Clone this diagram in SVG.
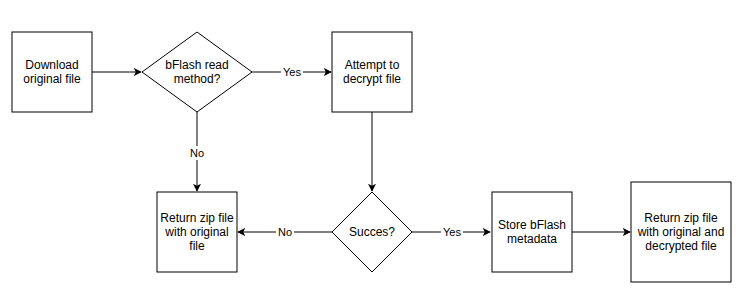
<svg xmlns="http://www.w3.org/2000/svg" width="743" height="301" viewBox="0 0 743 301">
<style>
.n{fill:#fff;stroke:#000;stroke-width:1}
.t{font-family:"Liberation Sans",Arial,sans-serif;font-size:12px;fill:#000;text-anchor:middle}
.l{font-family:"Liberation Sans",Arial,sans-serif;font-size:11px;fill:#000;text-anchor:middle}
.c{fill:none;stroke:#000;stroke-width:1;marker-end:url(#a)}
.lb{fill:#fff}
</style>
<defs>
<marker id="a" viewBox="0 0 10 10" refX="9" refY="5" markerWidth="8" markerHeight="8" markerUnits="userSpaceOnUse" orient="auto">
<path d="M0,0 L10,5 L0,10 L2.5,5 Z" fill="#000"/>
</marker>
</defs>
<rect width="743" height="301" fill="#fff"/>
<g id="connectors">
<path class="c" d="M92,72 L141,72"/>
<path class="c" d="M252,72 L331,72"/>
<path class="c" d="M197,112 L197,191"/>
<path class="c" d="M372,112 L372,191"/>
<path class="c" d="M332,232 L238,232"/>
<path class="c" d="M412,232 L490,232"/>
<path class="c" d="M572,232 L630,232"/>
<rect class="lb" x="281" y="65" width="22" height="14"/>
<text class="l" x="292" y="76">Yes</text>
<rect class="lb" x="188" y="146" width="18" height="14"/>
<text class="l" x="197" y="157">No</text>
<rect class="lb" x="276" y="225" width="18" height="14"/>
<text class="l" x="285" y="236">No</text>
<rect class="lb" x="441" y="225" width="22" height="14"/>
<text class="l" x="452" y="236">Yes</text>
</g>
<g id="download">
<rect class="n" x="12" y="32" width="80" height="80"/>
<text class="t" x="52" y="69">Download</text>
<text class="t" x="52" y="83">original file</text>
</g>
<g id="bflash-read">
<path class="n" d="M197,32 L252,72 L197,112 L142,72 Z"/>
<text class="t" x="197" y="69">bFlash read</text>
<text class="t" x="197" y="83">method?</text>
</g>
<g id="attempt">
<rect class="n" x="332" y="32" width="80" height="80"/>
<text class="t" x="372" y="69">Attempt to</text>
<text class="t" x="372" y="83">decrypt file</text>
</g>
<g id="return-original">
<rect class="n" x="157" y="192" width="80" height="80"/>
<text class="t" x="197" y="222">Return zip file</text>
<text class="t" x="197" y="236">with original</text>
<text class="t" x="197" y="250">file</text>
</g>
<g id="succes">
<path class="n" d="M372,192 L412,232 L372,272 L332,232 Z"/>
<text class="t" x="372" y="236">Succes?</text>
</g>
<g id="store">
<rect class="n" x="492" y="192" width="80" height="80"/>
<text class="t" x="532" y="229">Store bFlash</text>
<text class="t" x="532" y="243">metadata</text>
</g>
<g id="return-both">
<rect class="n" x="631" y="182" width="100" height="100"/>
<text class="t" x="681" y="222">Return zip file</text>
<text class="t" x="681" y="236">with original and</text>
<text class="t" x="681" y="250">decrypted file</text>
</g>
</svg>
